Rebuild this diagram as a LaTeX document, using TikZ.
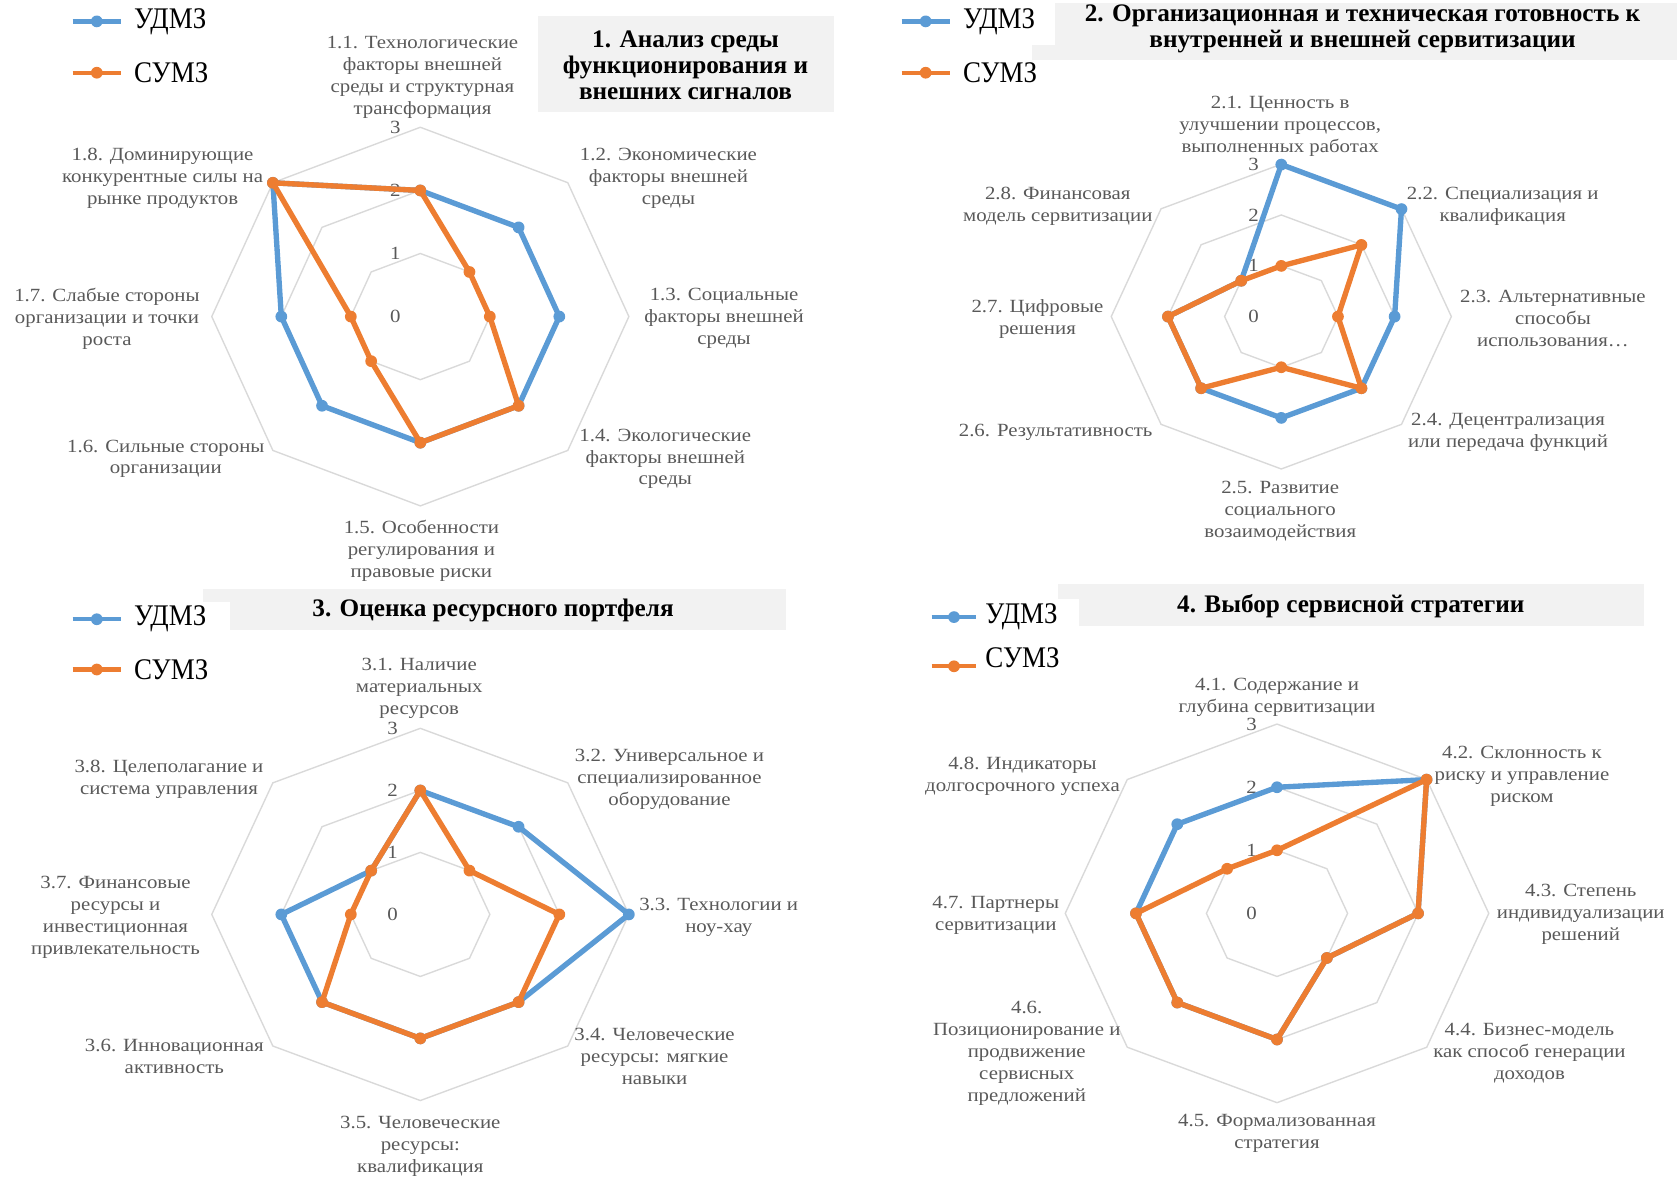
\documentclass[tikz,border=0pt]{standalone}
\usepackage{fontspec}
\setmainfont{Liberation Serif}
\newfontfamily\labelfont{Liberation Serif}[FakeStretch=1.12]
\newfontfamily\legendfont{Liberation Serif}[FakeStretch=0.9]
\usepackage{xcolor}
\usetikzlibrary{positioning, calc}

\definecolor{udmzblue}{HTML}{5B9BD5}
\definecolor{sumzorange}{HTML}{ED7D31}
\definecolor{labelgray}{HTML}{595959}
\definecolor{gridgray}{HTML}{D9D9D9}
\definecolor{titlegray}{HTML}{F2F2F2}

\tikzset{
    axislabel/.style={text=labelgray, font=\labelfont\fontsize{8.7}{10.25}\selectfont, align=center, inner sep=0pt, yshift=-1pt},
    ticklabel/.style={text=labelgray, font=\labelfont\fontsize{8.7}{10.25}\selectfont, inner sep=0pt},
    gridline/.style={draw=gridgray, line width=0.65pt},
    udmzline/.style={draw=udmzblue, line width=2.5pt, line join=round},
    sumzline/.style={draw=sumzorange, line width=2.5pt, line join=round},
    udmzdot/.style={circle, fill=udmzblue, inner sep=0pt, minimum size=5.5pt},
    sumzdot/.style={circle, fill=sumzorange, inner sep=0pt, minimum size=5.5pt},
    udmzleg/.style={draw=udmzblue, line width=2pt},
    sumzleg/.style={draw=sumzorange, line width=2pt},
    legendtext/.style={font=\legendfont\fontsize{14}{16}\selectfont, inner sep=0pt},
    titletext/.style={font=\bfseries\fontsize{11.8}{12.3}\selectfont, align=center, inner sep=0pt},
}

\begin{document}
\begin{tikzpicture}[x=0.5pt, y=-0.5pt]
    \useasboundingbox (0,0) rectangle (1568,1101);

    % titles
    \fill[titlegray] (503,15) rectangle (780,105);
    \node[titletext] (title1) at (641,61) {1. Анализ среды\\функционирования и\\внешних сигналов};
    \fill[titlegray] (965,3) rectangle (1568,56);
    \node[titletext] (title2) at (1274,27) {2. Организационная и техническая готовность к\\внутренней и внешней сервитизации};
    \fill[titlegray] (190,551) rectangle (735,589);
    \node[titletext] (title3) at (461,571) {3. Оценка ресурсного портфеля};
    \fill[titlegray] (989,546) rectangle (1537,585);
    \node[titletext] (title4) at (1263,567) {4. Выбор сервисной стратегии};

    % legends
    \fill[white] (835,0) rectangle (986,42);
    \fill[white] (60,563) rectangle (215,600);
    \fill[white] (865,560) rectangle (1009,600);
    \coordinate (lg1-ua) at (68,20);   \coordinate (lg1-ub) at (113,20);
    \coordinate (lg1-sa) at (68,68);   \coordinate (lg1-sb) at (113,68);
    \coordinate (lg2-ua) at (843,20);  \coordinate (lg2-ub) at (888,20);
    \coordinate (lg2-sa) at (843,68);  \coordinate (lg2-sb) at (888,68);
    \coordinate (lg3-ua) at (68,579);  \coordinate (lg3-ub) at (113,579);
    \coordinate (lg3-sa) at (68,626);  \coordinate (lg3-sb) at (113,626);
    \coordinate (lg4-ua) at (871,577); \coordinate (lg4-ub) at (913,577);
    \coordinate (lg4-sa) at (871,623); \coordinate (lg4-sb) at (913,623);
    \foreach \n in {1,...,4} {
        \draw[udmzleg] (lg\n-ua) -- (lg\n-ub);
        \node[udmzdot] (lg\n-ud) at ($(lg\n-ua)!0.5!(lg\n-ub)$) {};
        \draw[sumzleg] (lg\n-sa) -- (lg\n-sb);
        \node[sumzdot] (lg\n-sd) at ($(lg\n-sa)!0.5!(lg\n-sb)$) {};
    }
    \node[legendtext, right=6pt of lg1-ub] (lg1-u) {УДМЗ};
    \node[legendtext, right=6pt of lg1-sb] (lg1-s) {СУМЗ};
    \node[legendtext, right=6pt of lg2-ub] (lg2-u) {УДМЗ};
    \node[legendtext, right=6pt of lg2-sb] (lg2-s) {СУМЗ};
    \node[legendtext, right=6pt of lg3-ub] (lg3-u) {УДМЗ};
    \node[legendtext, right=6pt of lg3-sb] (lg3-s) {СУМЗ};
    \node[legendtext, right=4pt of lg4-ub] (lg4-u) {УДМЗ};
    \node[legendtext, right=4pt of lg4-sb, yshift=4pt] (lg4-s) {СУМЗ};

    % chart 1
    \begin{scope}[shift={(393,296)}, xscale=65, yscale=59]
        \foreach \lev in {1,2,3}
            \draw[gridline] (0,-\lev) \foreach \a in {45,90,...,315} { -- ({\lev*sin(\a)},{-\lev*cos(\a)}) } -- cycle;
        \foreach \lev in {0,...,3}
            \node[ticklabel] (t1-\lev) at (-0.36,-\lev) {\lev};
        \foreach \v [count=\i] in {2,2,2,2,2,2,2,3}
            \coordinate (u1-\i) at ({\v*sin(45*(\i-1))},{-\v*cos(45*(\i-1))});
        \foreach \v [count=\i] in {2,1,1,2,2,1,1,3}
            \coordinate (s1-\i) at ({\v*sin(45*(\i-1))},{-\v*cos(45*(\i-1))});
        \draw[udmzline] (u1-1) -- (u1-2) -- (u1-3) -- (u1-4) -- (u1-5) -- (u1-6) -- (u1-7) -- (u1-8) -- cycle;
        \foreach \i in {1,...,8} \node[udmzdot] (du1-\i) at (u1-\i) {};
        \draw[sumzline] (s1-1) -- (s1-2) -- (s1-3) -- (s1-4) -- (s1-5) -- (s1-6) -- (s1-7) -- (s1-8) -- cycle;
        \foreach \i in {1,...,8} \node[sumzdot] (ds1-\i) at (s1-\i) {};
    \end{scope}
    \node[axislabel] (l1-1) at (395,70) {1.1. Технологические\\факторы внешней\\среды и структурная\\трансформация};
    \node[axislabel] (l1-2) at (625,165) {1.2. Экономические\\факторы внешней\\среды};
    \node[axislabel] (l1-3) at (677,296) {1.3. Социальные\\факторы внешней\\среды};
    \node[axislabel] (l1-4) at (622,427) {1.4. Экологические\\факторы внешней\\среды};
    \node[axislabel] (l1-5) at (394,513) {1.5. Особенности\\регулирования и\\правовые риски};
    \node[axislabel] (l1-6) at (155,427) {1.6. Сильные стороны\\организации};
    \node[axislabel] (l1-7) at (100,296) {1.7. Слабые стороны\\организации и точки\\роста};
    \node[axislabel] (l1-8) at (152,165) {1.8. Доминирующие\\конкурентные силы на\\рынке продуктов};

    % chart 2
    \begin{scope}[shift={(1198,296)}, xscale=53, yscale=47.5]
        \foreach \lev in {1,2,3}
            \draw[gridline] (0,-\lev) \foreach \a in {45,90,...,315} { -- ({\lev*sin(\a)},{-\lev*cos(\a)}) } -- cycle;
        \foreach \lev in {0,...,3}
            \node[ticklabel] (t2-\lev) at (-0.49,-\lev) {\lev};
        \foreach \v [count=\i] in {3,3,2,2,2,2,2,1}
            \coordinate (u2-\i) at ({\v*sin(45*(\i-1))},{-\v*cos(45*(\i-1))});
        \foreach \v [count=\i] in {1,2,1,2,1,2,2,1}
            \coordinate (s2-\i) at ({\v*sin(45*(\i-1))},{-\v*cos(45*(\i-1))});
        \draw[udmzline] (u2-1) -- (u2-2) -- (u2-3) -- (u2-4) -- (u2-5) -- (u2-6) -- (u2-7) -- (u2-8) -- cycle;
        \foreach \i in {1,...,8} \node[udmzdot] (du2-\i) at (u2-\i) {};
        \draw[sumzline] (s2-1) -- (s2-2) -- (s2-3) -- (s2-4) -- (s2-5) -- (s2-6) -- (s2-7) -- (s2-8) -- cycle;
        \foreach \i in {1,...,8} \node[sumzdot] (ds2-\i) at (s2-\i) {};
    \end{scope}
    \node[axislabel] (l2-1) at (1197,116) {2.1. Ценность в\\улучшении процессов,\\выполненных работах};
    \node[axislabel] (l2-2) at (1405,191) {2.2. Специализация и\\квалификация};
    \node[axislabel] (l2-3) at (1452,296) {2.3. Альтернативные\\способы\\использования…};
    \node[axislabel] (l2-4) at (1410,402) {2.4. Децентрализация\\или передача функций};
    \node[axislabel] (l2-5) at (1197,476) {2.5. Развитие\\социального\\возаимодействия};
    \node[axislabel] (l2-6) at (987,402) {2.6. Результативность};
    \node[axislabel] (l2-7) at (970,296) {2.7. Цифровые\\решения};
    \node[axislabel] (l2-8) at (989,191) {2.8. Финансовая\\модель сервитизации};

    % chart 3
    \begin{scope}[shift={(393,855)}, xscale=65, yscale=58]
        \foreach \lev in {1,2,3}
            \draw[gridline] (0,-\lev) \foreach \a in {45,90,...,315} { -- ({\lev*sin(\a)},{-\lev*cos(\a)}) } -- cycle;
        \foreach \lev in {0,...,3}
            \node[ticklabel] (t3-\lev) at (-0.4,-\lev) {\lev};
        \foreach \v [count=\i] in {2,2,3,2,2,2,2,1}
            \coordinate (u3-\i) at ({\v*sin(45*(\i-1))},{-\v*cos(45*(\i-1))});
        \foreach \v [count=\i] in {2,1,2,2,2,2,1,1}
            \coordinate (s3-\i) at ({\v*sin(45*(\i-1))},{-\v*cos(45*(\i-1))});
        \draw[udmzline] (u3-1) -- (u3-2) -- (u3-3) -- (u3-4) -- (u3-5) -- (u3-6) -- (u3-7) -- (u3-8) -- cycle;
        \foreach \i in {1,...,8} \node[udmzdot] (du3-\i) at (u3-\i) {};
        \draw[sumzline] (s3-1) -- (s3-2) -- (s3-3) -- (s3-4) -- (s3-5) -- (s3-6) -- (s3-7) -- (s3-8) -- cycle;
        \foreach \i in {1,...,8} \node[sumzdot] (ds3-\i) at (s3-\i) {};
    \end{scope}
    \node[axislabel] (l3-1) at (392,642) {3.1. Наличие\\материальных\\ресурсов};
    \node[axislabel] (l3-2) at (626,727) {3.2. Универсальное и\\специализированное\\оборудование};
    \node[axislabel] (l3-3) at (672,856) {3.3. Технологии и\\ноу-хау};
    \node[axislabel] (l3-4) at (612,986) {3.4. Человеческие\\ресурсы: мягкие\\навыки};
    \node[axislabel] (l3-5) at (393,1070) {3.5. Человеческие\\ресурсы:\\квалификация};
    \node[axislabel] (l3-6) at (163,986) {3.6. Инновационная\\активность};
    \node[axislabel] (l3-7) at (108,856) {3.7. Финансовые\\ресурсы и\\инвестиционная\\привлекательность};
    \node[axislabel] (l3-8) at (158,727) {3.8. Целеполагание и\\система управления};

    % chart 4
    \begin{scope}[shift={(1194,854)}, xscale=66, yscale=59]
        \foreach \lev in {1,2,3}
            \draw[gridline] (0,-\lev) \foreach \a in {45,90,...,315} { -- ({\lev*sin(\a)},{-\lev*cos(\a)}) } -- cycle;
        \foreach \lev in {0,...,3}
            \node[ticklabel] (t4-\lev) at (-0.36,-\lev) {\lev};
        \foreach \v [count=\i] in {2,3,2,1,2,2,2,2}
            \coordinate (u4-\i) at ({\v*sin(45*(\i-1))},{-\v*cos(45*(\i-1))});
        \foreach \v [count=\i] in {1,3,2,1,2,2,2,1}
            \coordinate (s4-\i) at ({\v*sin(45*(\i-1))},{-\v*cos(45*(\i-1))});
        \draw[udmzline] (u4-1) -- (u4-2) -- (u4-3) -- (u4-4) -- (u4-5) -- (u4-6) -- (u4-7) -- (u4-8) -- cycle;
        \foreach \i in {1,...,8} \node[udmzdot] (du4-\i) at (u4-\i) {};
        \draw[sumzline] (s4-1) -- (s4-2) -- (s4-3) -- (s4-4) -- (s4-5) -- (s4-6) -- (s4-7) -- (s4-8) -- cycle;
        \foreach \i in {1,...,8} \node[sumzdot] (ds4-\i) at (s4-\i) {};
    \end{scope}
    \node[axislabel] (l4-1) at (1194,650) {4.1. Содержание и\\глубина сервитизации};
    \node[axislabel] (l4-2) at (1423,724) {4.2. Склонность к\\риску и управление\\риском};
    \node[axislabel] (l4-3) at (1478,853) {4.3. Степень\\индивидуализации\\решений};
    \node[axislabel] (l4-4) at (1430,983) {4.4. Бизнес-модель\\как способ генерации\\доходов};
    \node[axislabel] (l4-5) at (1194,1058) {4.5. Формализованная\\стратегия};
    \node[axislabel] (l4-6) at (960,983) {4.6.\\Позиционирование и\\продвижение\\сервисных\\предложений};
    \node[axislabel] (l4-7) at (931,854) {4.7. Партнеры\\сервитизации};
    \node[axislabel] (l4-8) at (956,724) {4.8. Индикаторы\\долгосрочного успеха};
\end{tikzpicture}
\end{document}
